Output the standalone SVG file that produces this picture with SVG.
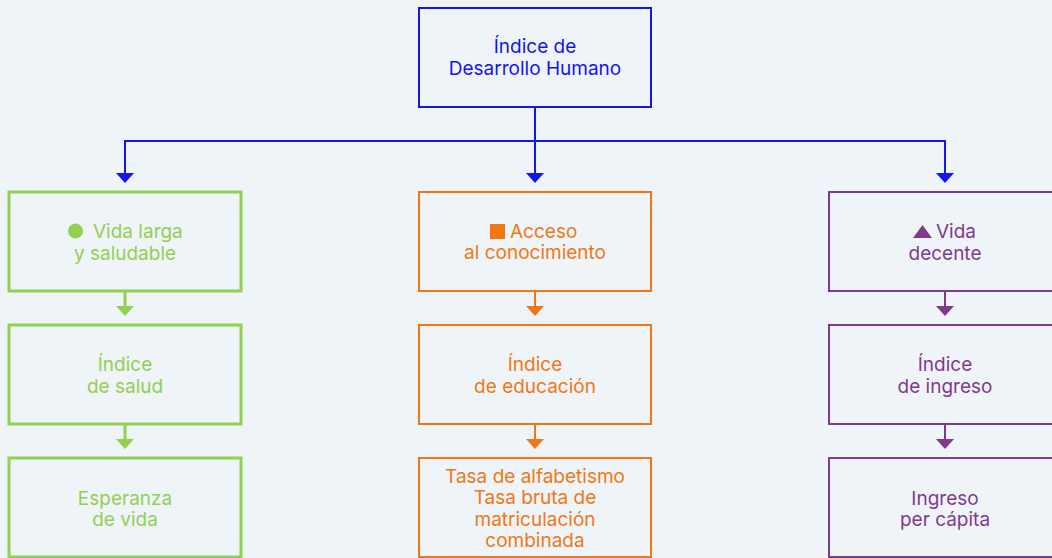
<svg xmlns="http://www.w3.org/2000/svg" width="1052" height="558" viewBox="0 0 1052 558">
<style>
text{font-family:Inter,"Liberation Sans",sans-serif;font-size:19px;text-anchor:middle}
.b{fill:none;stroke:#1414f0;stroke-width:2}
.g{fill:none;stroke:#92d050;stroke-width:3}
.o{fill:none;stroke:#f07814;stroke-width:2}
.p{fill:none;stroke:#7f3b8b;stroke-width:2}
.tb{fill:#1414f0}.tg{fill:#92d050}.to{fill:#f07814}.tp{fill:#7f3b8b}
</style>
<rect width="1052" height="558" fill="#eff4f9"/>
<g id="connectors">
<path class="b" d="M535 107V173M125 141H945M125 140V173M945 140V173"/>
<polygon class="tb" points="116,173 134,173 125,183"/>
<polygon class="tb" points="526,173 544,173 535,183"/>
<polygon class="tb" points="936,173 954,173 945,183"/>
<path class="g" d="M125 291V307M125 424V440" stroke-width="2"/>
<polygon class="tg" points="116,306 134,306 125,316"/>
<polygon class="tg" points="116,439 134,439 125,449"/>
<path class="o" d="M535 291V307M535 424V440"/>
<polygon class="to" points="526,306 544,306 535,316"/>
<polygon class="to" points="526,439 544,439 535,449"/>
<path class="p" d="M945 291V307M945 424V440"/>
<polygon class="tp" points="936,306 954,306 945,316"/>
<polygon class="tp" points="936,439 954,439 945,449"/>
</g>
<g id="idh"><rect class="b" x="419" y="8" width="232" height="99"/><text class="tb" x="535" y="53">Índice de</text><text class="tb" x="535" y="75">Desarrollo Humano</text></g>
<g id="vida-larga"><rect class="g" x="9" y="192" width="232" height="99"/><circle class="tg" cx="75.5" cy="231" r="7.5"/><text class="tg" x="93" y="238" style="text-anchor:start">Vida larga</text><text class="tg" x="125" y="260">y saludable</text></g>
<g id="indice-salud"><rect class="g" x="9" y="325" width="232" height="99"/><text class="tg" x="125" y="371">Índice</text><text class="tg" x="125" y="393">de salud</text></g>
<g id="esperanza"><rect class="g" x="9" y="458" width="232" height="99"/><text class="tg" x="125" y="505">Esperanza</text><text class="tg" x="125" y="526">de vida</text></g>
<g id="acceso"><rect class="o" x="419" y="192" width="232" height="99"/><rect class="to" x="490" y="224" width="15" height="15"/><text class="to" x="510" y="238" style="text-anchor:start">Acceso</text><text class="to" x="535" y="259">al conocimiento</text></g>
<g id="indice-educacion"><rect class="o" x="419" y="325" width="232" height="99"/><text class="to" x="535" y="371">Índice</text><text class="to" x="535" y="393">de educación</text></g>
<g id="tasas"><rect class="o" x="419" y="458" width="232" height="99"/><text class="to" x="535" y="483">Tasa de alfabetismo</text><text class="to" x="535" y="504">Tasa bruta de</text><text class="to" x="535" y="526">matriculación</text><text class="to" x="535" y="547">combinada</text></g>
<g id="vida-decente"><rect class="p" x="829" y="192" width="232" height="99"/><polygon class="tp" points="913,238 932,238 922.5,225"/><text class="tp" x="936" y="238" style="text-anchor:start">Vida</text><text class="tp" x="945" y="260">decente</text></g>
<g id="indice-ingreso"><rect class="p" x="829" y="325" width="232" height="99"/><text class="tp" x="945" y="371">Índice</text><text class="tp" x="945" y="393">de ingreso</text></g>
<g id="ingreso"><rect class="p" x="829" y="458" width="232" height="99"/><text class="tp" x="945" y="505">Ingreso</text><text class="tp" x="945" y="526">per cápita</text></g>
</svg>
